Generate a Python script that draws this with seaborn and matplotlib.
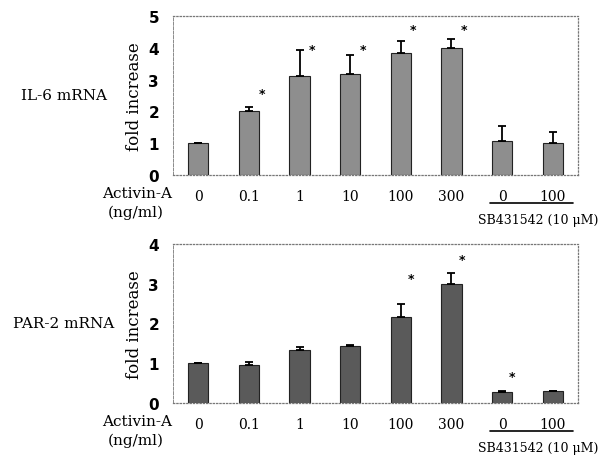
import numpy as np
import pandas as pd
import matplotlib
matplotlib.use("Agg")
import matplotlib.pyplot as plt
import seaborn as sns

# ---- data ----
conditions = ["A0", "A0.1", "A1", "A10", "A100", "A300", "SB0", "SB100"]
tick_labels = ["0", "0.1", "1", "10", "100", "300", "0", "100"]
il6_mean = [1.0, 2.0, 3.1, 3.17, 3.83, 4.0, 1.08, 1.02]
il6_err = [0.02, 0.13, 0.82, 0.6, 0.39, 0.29, 0.46, 0.34]
il6_star = [False, True, True, True, True, True, False, False]
il6_star_y = [0, 2.57, 3.94, 3.94, 4.56, 4.56, 0, 0]
par2_mean = [1.0, 0.96, 1.34, 1.43, 2.17, 2.99, 0.27, 0.29]
par2_err = [0.01, 0.06, 0.08, 0.02, 0.32, 0.28, 0.03, 0.02]
par2_star = [False, False, False, False, True, True, True, False]
par2_star_y = [0, 0, 0, 0, 3.14, 3.61, 0.67, 0]

sns.set_style("white")
plt.rcParams["font.family"] = ["DejaVu Serif"]
plt.rcParams["text.color"] = "black"
plt.rcParams["xtick.color"] = "black"
plt.rcParams["ytick.color"] = "black"
plt.rcParams["axes.labelcolor"] = "black"

W, H = 604, 456
fig = plt.figure(figsize=(W / 100, H / 100), dpi=100)

def fx(px):
    return px / W

def fy(py):
    return 1 - py / H

panels = [
    dict(mean=il6_mean, err=il6_err, star=il6_star, sy=il6_star_y, ymax=5,
         color="#8e8e8e", top=17, bot=176, name="IL-6 mRNA", soff=0.25),
    dict(mean=par2_mean, err=par2_err, star=par2_star, sy=par2_star_y, ymax=4,
         color="#5a5a5a", top=245, bot=404, name="PAR-2 mRNA", soff=0.2),
]

for p in panels:
    ax = fig.add_axes([fx(173), fy(p["bot"]), fx(578) - fx(173), (p["bot"] - p["top"]) / H])
    df = pd.DataFrame({"cond": conditions, "val": p["mean"]})
    sns.barplot(data=df, x="cond", y="val", order=conditions, color=p["color"],
                saturation=1, width=0.4, edgecolor="#222222", linewidth=0.8,
                errorbar=None, ax=ax)
    xs = np.arange(len(conditions))
    ax.errorbar(xs, p["mean"], yerr=[np.zeros(len(xs)), p["err"]], fmt="none",
                ecolor="black", elinewidth=1.3, capsize=3, capthick=1.3)
    for i, (s, y) in enumerate(zip(p["star"], p["sy"])):
        if s:
            ax.text(i + p["soff"], y, "*", ha="center", va="center", fontsize=9,
                    fontweight="bold", family="DejaVu Sans")
    ax.set_xlim(-0.5, 7.5)
    ax.set_ylim(0, p["ymax"])
    ax.set_yticks(range(p["ymax"] + 1))
    ax.set_yticklabels([str(v) for v in range(p["ymax"] + 1)],
                       fontweight="bold", family="DejaVu Sans", fontsize=11)
    ax.set_xticks(xs)
    ax.set_xticklabels(tick_labels, fontsize=10)
    ax.tick_params(axis="x", length=0, pad=10)
    ax.tick_params(axis="y", length=2, width=0.5, color="#888888", pad=8)
    ax.set_xlabel("")
    ax.set_ylabel("fold increase", fontsize=12, labelpad=4)
    for sp in ax.spines.values():
        sp.set_visible(True)
        sp.set_linestyle(":")
        sp.set_color("#777777")
        sp.set_linewidth(0.9)
    ax.spines["left"].set_linestyle("--")
    ax.spines["left"].set_linewidth(0.6)

    off = p["bot"]
    fig.text(fx(64), fy((p["top"] + p["bot"]) / 2), p["name"], ha="center", va="center", fontsize=11)
    fig.text(fx(172), fy(off + 18), "Activin-A", ha="right", va="center", fontsize=11)
    fig.text(fx(136), fy(off + 37), "(ng/ml)", ha="center", va="center", fontsize=11)
    fig.add_artist(plt.Line2D([fx(490), fx(573)], [fy(off + 28), fy(off + 28)],
                              color="black", lw=1.2, transform=fig.transFigure))
    fig.text(fx(598), fy(off + 45), "SB431542 (10 μM)", ha="right", va="center", fontsize=9)

fig.savefig("out.png", dpi=100)
